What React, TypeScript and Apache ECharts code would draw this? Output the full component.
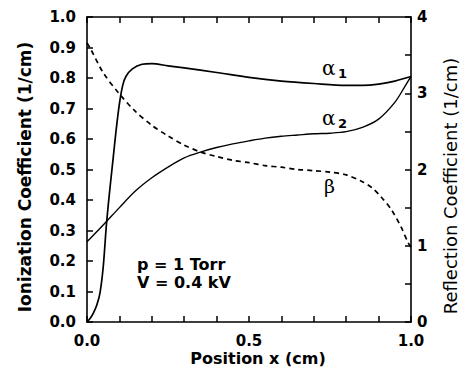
import React, { useEffect, useRef } from "react";
import * as echarts from "echarts";

const alpha1X = [0, 0.01, 0.02, 0.03, 0.04, 0.05, 0.06, 0.07, 0.08, 0.09, 0.1, 0.11, 0.12, 0.14, 0.17, 0.2, 0.25, 0.3, 0.4, 0.5, 0.6, 0.7, 0.8, 0.85, 0.9, 0.95, 1.0];
const alpha1Y = [0, 0.012, 0.03, 0.055, 0.095, 0.18, 0.32, 0.43, 0.53, 0.63, 0.715, 0.775, 0.805, 0.83, 0.845, 0.847, 0.84, 0.833, 0.818, 0.802, 0.79, 0.782, 0.776, 0.776, 0.78, 0.79, 0.805];

const alpha2X = [0, 0.05, 0.1, 0.15, 0.2, 0.25, 0.3, 0.35, 0.4, 0.45, 0.5, 0.55, 0.6, 0.65, 0.7, 0.75, 0.8, 0.85, 0.9, 0.95, 0.98, 1.0];
const alpha2Y = [0.263, 0.318, 0.375, 0.43, 0.473, 0.508, 0.538, 0.557, 0.572, 0.584, 0.594, 0.603, 0.609, 0.613, 0.617, 0.619, 0.624, 0.638, 0.665, 0.72, 0.77, 0.805];

const betaX = [0, 0.01, 0.05, 0.1, 0.15, 0.2, 0.25, 0.3, 0.35, 0.4, 0.45, 0.5, 0.55, 0.6, 0.65, 0.7, 0.75, 0.8, 0.85, 0.88, 0.91, 0.94, 0.97, 0.99, 1.0];
const betaY = [3.66, 3.59, 3.27, 2.99, 2.76, 2.58, 2.44, 2.32, 2.23, 2.17, 2.12, 2.09, 2.05, 2.03, 2.0, 1.985, 1.965, 1.93, 1.84, 1.76, 1.63, 1.47, 1.24, 1.05, 0.98];

const xTickLabels = ["0.0", "0.5", "1.0"];
const rightTickLabels = ["0", "1", "2", "3", "4"];

const SANS = "DejaVu Sans";
const SERIF = "DejaVu Serif";

const pairs = (xs: number[], ys: number[]) => xs.map((x, i) => [x, ys[i]]);

export default function App() {
  const ref = useRef<HTMLDivElement>(null);
  useEffect(() => {
    if (!ref.current) return;
    const chart = echarts.init(ref.current, null, { renderer: "svg" });
    const mkLine = () => ({ show: true, onZero: false, lineStyle: { color: "#000", width: 1.6 } });
    const mkTick = () => ({ show: true, inside: true, length: 6, lineStyle: { color: "#000", width: 1.5 } });
    const labelBase = { show: true, fontFamily: SANS, fontWeight: "bold", fontSize: 15, color: "#000" };
    chart.setOption({
      animation: false,
      backgroundColor: "#fff",
      grid: { left: 87, right: 54, top: 17, bottom: 53, containLabel: false },
      xAxis: [
        {
          type: "value",
          position: "bottom",
          min: 0,
          max: 1,
          interval: 0.1,
          axisLine: mkLine(),
          axisTick: mkTick(),
          splitLine: { show: false },
          axisLabel: {
            ...labelBase,
            margin: 11,
            formatter: (v: number) => {
              const s = v.toFixed(1);
              return xTickLabels.includes(s) && Math.abs(v * 2 - Math.round(v * 2)) < 1e-6 ? s : "";
            },
          },
        },
        {
          type: "value",
          position: "top",
          min: 0,
          max: 1,
          interval: 0.1,
          axisLine: mkLine(),
          axisTick: mkTick(),
          splitLine: { show: false },
          axisLabel: { show: false },
        },
      ],
      yAxis: [
        {
          type: "value",
          position: "left",
          min: 0,
          max: 1,
          interval: 0.1,
          axisLine: mkLine(),
          axisTick: mkTick(),
          splitLine: { show: false },
          axisLabel: { ...labelBase, margin: 11, formatter: (v: number) => v.toFixed(1) },
        },
        {
          type: "value",
          position: "right",
          min: 0,
          max: 4,
          interval: 0.5,
          axisLine: mkLine(),
          axisTick: mkTick(),
          splitLine: { show: false },
          axisLabel: {
            ...labelBase,
            margin: 6,
            formatter: (v: number) => {
              const s = String(Math.round(v));
              return Math.abs(v - Math.round(v)) < 1e-6 && rightTickLabels.includes(s) ? s : "";
            },
          },
        },
      ],
      series: [
        {
          type: "line",
          name: "alpha1",
          xAxisIndex: 0,
          yAxisIndex: 0,
          data: pairs(alpha1X, alpha1Y),
          smooth: 0.3,
          showSymbol: false,
          lineStyle: { color: "#000", width: 1.7 },
        },
        {
          type: "line",
          name: "alpha2",
          xAxisIndex: 0,
          yAxisIndex: 0,
          data: pairs(alpha2X, alpha2Y),
          smooth: 0.3,
          showSymbol: false,
          lineStyle: { color: "#000", width: 1.4 },
        },
        {
          type: "line",
          name: "beta",
          xAxisIndex: 0,
          yAxisIndex: 1,
          data: pairs(betaX, betaY),
          smooth: 0.3,
          showSymbol: false,
          lineStyle: { color: "#000", width: 1.7, type: [5, 4] },
        },
      ],
      graphic: [
        {
          type: "text",
          x: 25,
          y: 177,
          rotation: Math.PI / 2,
          style: {
            text: "Ionization Coefficient (1/cm)",
            font: `bold 17px "${SANS}"`,
            fill: "#000",
            align: "center",
            verticalAlign: "middle",
          },
        },
        {
          type: "text",
          x: 450,
          y: 186,
          rotation: Math.PI / 2,
          style: {
            text: "Reflection Coefficient (1/cm)",
            font: `18px "${SANS}"`,
            fill: "#000",
            align: "center",
            verticalAlign: "middle",
          },
        },
        {
          type: "text",
          x: 258,
          y: 358,
          style: {
            text: "Position x (cm)",
            font: `bold 16px "${SANS}"`,
            fill: "#000",
            align: "center",
            verticalAlign: "middle",
          },
        },
        { type: "text", left: 322, top: 58, style: { text: "α", font: `20px "${SERIF}"`, fill: "#000" } },
        { type: "text", left: 338, top: 67, style: { text: "1", font: `bold 13px "${SANS}"`, fill: "#000" } },
        { type: "text", left: 322, top: 108, style: { text: "α", font: `20px "${SERIF}"`, fill: "#000" } },
        { type: "text", left: 338, top: 117, style: { text: "2", font: `bold 13px "${SANS}"`, fill: "#000" } },
        { type: "text", left: 324, top: 176, style: { text: "β", font: `19px "${SERIF}"`, fill: "#000" } },
        { type: "text", left: 137, top: 256, style: { text: "p = 1 Torr", font: `bold 16px "${SANS}"`, fill: "#000" } },
        { type: "text", left: 137, top: 274, style: { text: "V = 0.4 kV", font: `bold 16px "${SANS}"`, fill: "#000" } },
      ],
    });
    return () => chart.dispose();
  }, []);
  return (
    <div
      ref={ref}
      style={{ position: "fixed", left: 0, top: 0, width: 465, height: 375, background: "#fff" }}
    />
  );
}
